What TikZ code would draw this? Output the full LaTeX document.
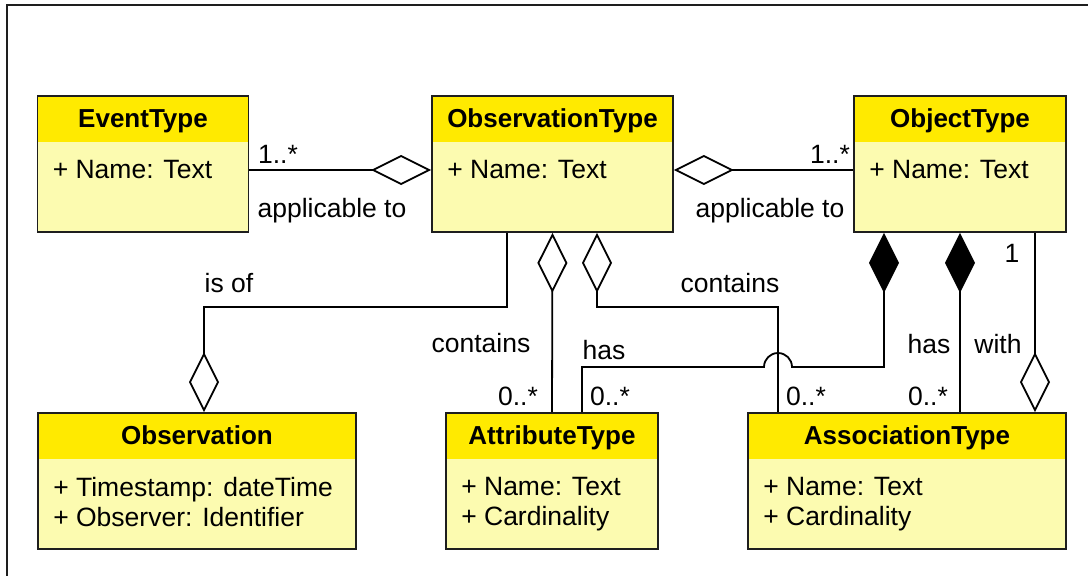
\documentclass[tikz,border=0pt]{standalone}
\usepackage{fontspec}
\setmainfont{Liberation Sans}
\usetikzlibrary{arrows.meta}
\definecolor{kopfgelb}{RGB}{255,234,0}
\definecolor{koerpergelb}{RGB}{252,251,176}
\definecolor{rand}{RGB}{30,30,30}
% Klasse: Name, x, y, Breite, Titel, Attribute
\newcommand{\umlklasse}[6]{%
 \node[klasse,minimum width=#4] (#1) at (#2,#3) {};
 \node[kopf] (#1kopf) at ([yshift=-32.5pt]#1.north) {#5};
 \node[attr] (#1attr) at ([xshift=16pt,yshift=-65pt]#1.north west) {#6};
}
\begin{document}
\begin{tikzpicture}[x=1pt,y=-1pt,
 font=\fontsize{26.5}{29.5}\selectfont,
 klasse/.style={draw=rand,line width=1.8pt,fill=koerpergelb,minimum height=136pt,inner sep=0pt,
  path picture={\fill[kopfgelb] (path picture bounding box.north west) rectangle ([yshift=-46pt]path picture bounding box.north east);}},
 kopf/.style={font=\fontsize{26}{29.5}\selectfont\bfseries,inner sep=0pt,anchor=base},
 attr/.style={anchor=north west,align=left,inner sep=0pt},
 linie/.style={line width=1.8pt},
 aggr/.style={linie,-{Diamond[open,length=60pt,width=30pt]}},
 aggrstart/.style={linie,{Diamond[open,length=60pt,width=30pt]}-},
 komp/.style={linie,{Diamond[length=60pt,width=30pt]}-},
 lab/.style={anchor=base,inner sep=0pt}]
\useasboundingbox (0,0) rectangle (1088,576);
%Rahmen
\draw[line width=1.6pt,rand] (7,576) |- (1088,5);
%Klassen
\umlklasse{eventtype}{143}{164}{211pt}{EventType}{+ Name: Text}
\umlklasse{obstype}{552.5}{164}{241pt}{ObservationType}{+ Name: Text}
\umlklasse{objtype}{960}{164}{212pt}{ObjectType}{+ Name: Text}
\umlklasse{observation}{197}{481}{318pt}{Observation}{+ Timestamp: dateTime\\+ Observer: Identifier}
\umlklasse{attrtype}{552}{481}{212pt}{AttributeType}{+ Name: Text\\+ Cardinality}
\umlklasse{assoctype}{907}{481}{318pt}{AssociationType}{+ Name: Text\\+ Cardinality}
%Knicke
\coordinate (isofknick) at (204,307);
\coordinate (containsknick) at (778,307);
\coordinate (hasknick) at (582,367);
%Verbindungen
\draw[aggr] ([yshift=-6pt]eventtype.east) -- ([yshift=-6pt]obstype.west);
\draw[aggr] ([yshift=-6pt]objtype.west) -- ([yshift=-6pt]obstype.east);
\draw[aggr] (obstype.south -| 507,0) |- (isofknick) -- (observation.north -| isofknick);
\draw[aggrstart] (obstype.south) -- (attrtype.north);
\draw[aggrstart] (obstype.south -| 597,0) |- (containsknick) -- (assoctype.north -| containsknick);
\draw[komp] (objtype.south -| 884,0) |- (792,367) arc[start angle=0,end angle=180,radius=14pt] -- (hasknick) -- (attrtype.north -| hasknick);
\draw[komp] (objtype.south) -- (objtype.south |- assoctype.north);
\draw[aggr] (objtype.south -| 1035,0) -- (assoctype.north -| 1035,0);
%Beschriftung
\node[lab] (m1) at (278,163) {1..*};
\node[lab] (r1) at (332,217) {applicable to};
\node[lab] (m2) at (830,163) {1..*};
\node[lab] (r2) at (770,217) {applicable to};
\node[lab] (r3) at (229,292) {is of};
\node[lab] (r4) at (481,352) {contains};
\node[lab] (r5) at (730,292) {contains};
\node[lab] (r6) at (604,359) {has};
\node[lab] (r7) at (929,353) {has};
\node[lab] (r8) at (998,353) {with};
\node[lab] (m3) at (518,405) {0..*};
\node[lab] (m4) at (610,405) {0..*};
\node[lab] (m5) at (806,405) {0..*};
\node[lab] (m6) at (928,405) {0..*};
\node[lab] (m7) at (1012,262) {1};
\end{tikzpicture}
\end{document}
